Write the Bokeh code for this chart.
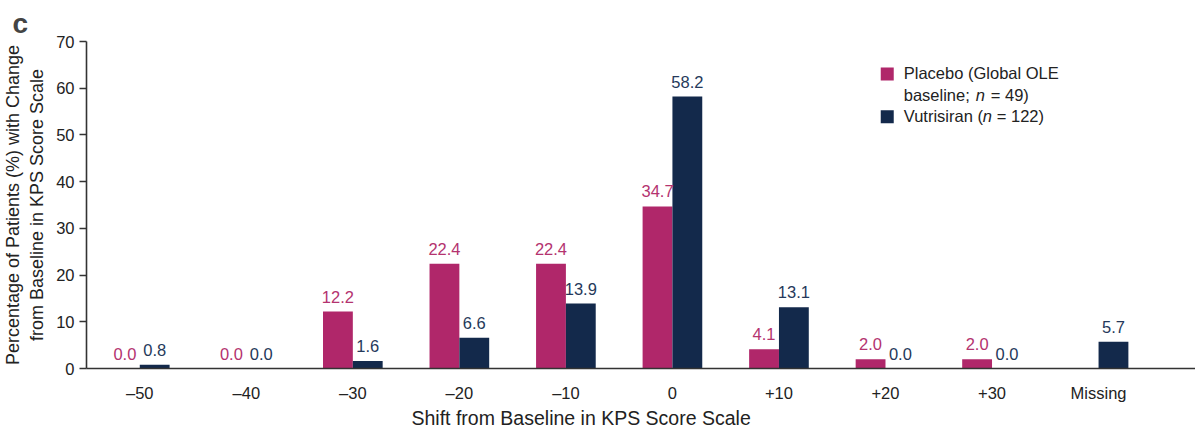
import numpy as np
from bokeh.plotting import figure
from bokeh.models import Range1d, FixedTicker, Label, ColumnDataSource, Title
from bokeh.core.properties import value
from bokeh.embed import file_html
from bokeh.resources import INLINE

# ---- data ----
categories = ["\u201350", "\u201340", "\u201330", "\u201320", "\u201310", "0", "+10", "+20", "+30", "Missing"]
placebo = [0.0, 0.0, 12.2, 22.4, 22.4, 34.7, 4.1, 2.0, 2.0, np.nan]
vutrisiran = [0.8, 0.0, 1.6, 6.6, 13.9, 58.2, 13.1, 0.0, 0.0, 5.7]
y_ticks = [0, 10, 20, 30, 40, 50, 60, 70]

PLACEBO_C = "#B0276A"
VUTRI_C = "#13294B"
PLACEBO_T = "#B4336F"
VUTRI_T = "#25395A"
FONT = "Liberation Sans"

# layout helpers (pixel -> data) for annotations
FL, FT, FB = 86, 41, 369
CAT_W = 106.5
X0, X1 = -0.5, 9.91


def px_x(px):
    return (px - FL) / CAT_W + X0


def py_y(py):
    return (FB - py) / (FB - FT) * 70.0


pos = np.arange(len(categories))
bw = 0.28

p = figure(width=1195, height=428, x_range=Range1d(X0, X1), y_range=Range1d(0, 70),
           output_backend="svg", toolbar_location=None,
           min_border_left=FL, min_border_right=0, min_border_top=FT, min_border_bottom=428 - FB)
p.title.text = "c"
p.title.text_font = FONT
p.title.text_font_size = "28px"
p.title.text_font_style = "bold"
p.title.align = "left"
p.title.offset = -74
p.title.standoff = 5
p.outline_line_color = None
p.grid.visible = False
p.background_fill_color = "white"

src_p = ColumnDataSource(dict(x=pos - bw / 2, top=placebo,
                              lab=["" if np.isnan(v) else f"{v:.1f}" for v in placebo],
                              ly=[0 if np.isnan(v) else v for v in placebo]))
src_v = ColumnDataSource(dict(x=pos + bw / 2, top=vutrisiran,
                              lab=[f"{v:.1f}" for v in vutrisiran], ly=vutrisiran))

p.vbar(x="x", top="top", width=bw, bottom=0, source=src_p, fill_color=PLACEBO_C, line_color=None)
p.vbar(x="x", top="top", width=bw, bottom=0, source=src_v, fill_color=VUTRI_C, line_color=None)

p.text(x="x", y="ly", text="lab", source=src_p, text_align="center", text_baseline="bottom",
       y_offset=-9, text_color=PLACEBO_T, text_font=value(FONT), text_font_size="16.5px")
p.text(x="x", y="ly", text="lab", source=src_v, text_align="center", text_baseline="bottom",
       y_offset=-9, text_color=VUTRI_T, text_font=value(FONT), text_font_size="16.5px")

# axes
xa = p.xaxis[0]
xa.ticker = FixedTicker(ticks=list(pos))
xa.major_label_overrides = {int(i): c for i, c in zip(pos, categories)}
xa.major_tick_out = 0
xa.major_tick_in = 0
xa.minor_tick_out = 0
xa.minor_tick_in = 0
xa.major_label_standoff = 15
xa.major_label_text_font = FONT
xa.major_label_text_font_size = "16.5px"
xa.major_label_text_color = "#222222"
xa.axis_line_color = "#333333"
xa.axis_line_width = 1.6

ya = p.yaxis[0]
ya.ticker = FixedTicker(ticks=y_ticks)
ya.major_tick_out = 7
ya.major_tick_in = 0
ya.minor_tick_out = 0
ya.minor_tick_in = 0
ya.major_label_standoff = 5
ya.major_label_text_font = FONT
ya.major_label_text_font_size = "16.5px"
ya.major_label_text_color = "#222222"
ya.axis_line_color = "#333333"
ya.axis_line_width = 1.6
ya.major_tick_line_color = "#333333"
ya.major_tick_line_width = 1.6
ya.axis_label = "Percentage of Patients (%) with Change\nfrom Baseline in KPS Score Scale"
ya.axis_label_text_font = FONT
ya.axis_label_text_font_size = "18px"
ya.axis_label_text_font_style = "normal"
ya.axis_label_text_color = "#222222"
ya.axis_label_standoff = 6

# x axis title placed below (its centre in the source is left of the frame centre)
xt = Title(text="Shift from Baseline in KPS Score Scale", align="left", offset=411 - FL,
           text_font=FONT, text_font_size="19.5px", text_font_style="normal",
           text_color="#222222", standoff=0)
p.add_layout(xt, "below")

# legend (manual, to allow italic n)
p.scatter(x=[px_x(886.5), px_x(886.5)], y=[py_y(73.5), py_y(116.5)], marker="square", size=13,
          fill_color=[PLACEBO_C, VUTRI_C], line_color=None)

leg = [
    ("Placebo (Global OLE", 903, 73, "normal"),
    ("baseline;", 903, 95, "normal"),
    ("n", 975, 95, "italic"),
    ("= 49)", 990, 95, "normal"),
    ("Vutrisiran (", 903, 116, "normal"),
    ("n", 982, 116, "italic"),
    ("= 122)", 996, 116, "normal"),
]
for t, lx, ly, st in leg:
    p.add_layout(Label(x=px_x(lx), y=py_y(ly), text=t, text_align="left", text_baseline="middle",
                       text_font=FONT, text_font_size="16.5px", text_font_style=st,
                       text_color="#222222"))

open("out.html", "w").write(file_html(p, INLINE))
